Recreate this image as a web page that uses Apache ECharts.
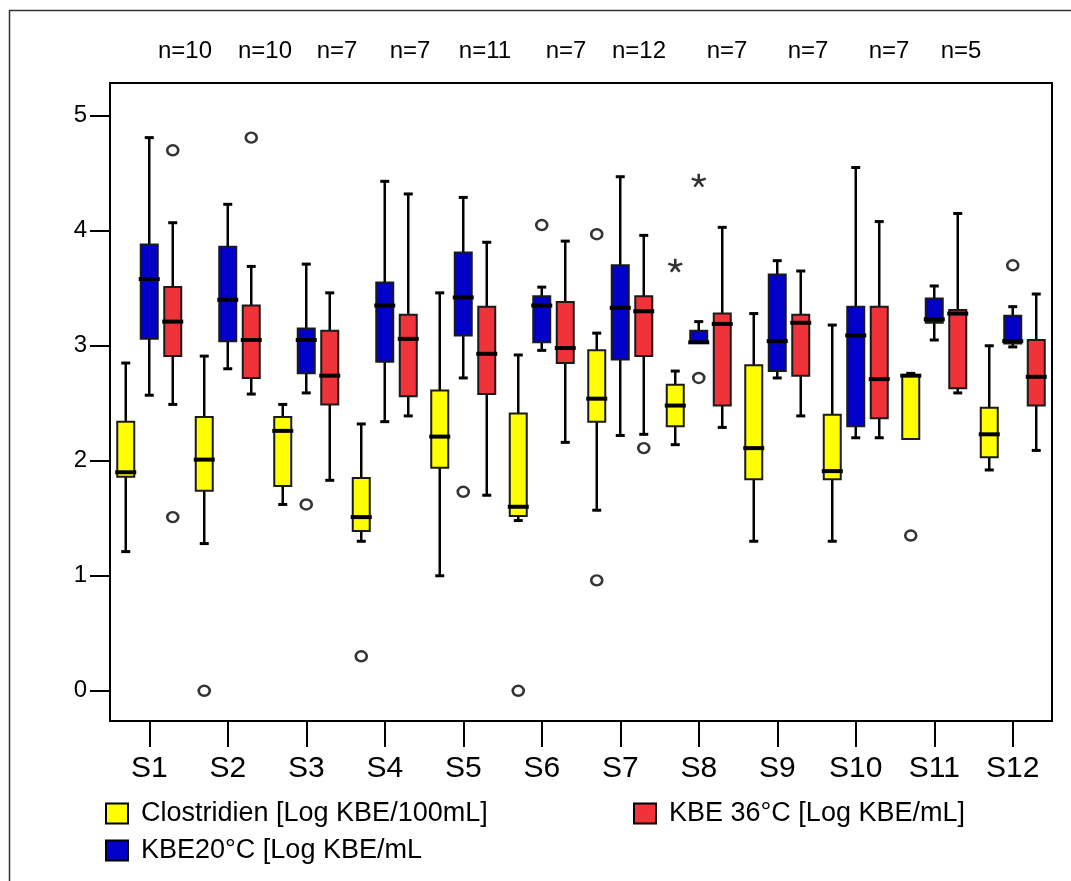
<!DOCTYPE html>
<html>
<head>
<meta charset="utf-8">
<script src="https://cdn.jsdelivr.net/npm/echarts@6/dist/echarts.min.js"></script>
<style>
  html, body { margin: 0; padding: 0; background: #fff; }
  #chart { width: 1071px; height: 881px; }
</style>
</head>
<body>
<div id="chart"></div>
<script>
// Sampling sites
const categories = ['S1', 'S2', 'S3', 'S4', 'S5', 'S6', 'S7', 'S8', 'S9', 'S10', 'S11', 'S12'];

// Box statistics per site: [lower whisker, Q1, median, Q3, upper whisker]
const clostridien = [
  [1.21, 1.86, 1.90, 2.34, 2.85],
  [1.28, 1.74, 2.01, 2.38, 2.91],
  [1.62, 1.78, 2.26, 2.38, 2.49],
  [1.30, 1.39, 1.51, 1.85, 2.32],
  [1.00, 1.94, 2.21, 2.61, 3.46],
  [1.48, 1.52, 1.60, 2.41, 2.92],
  [1.57, 2.34, 2.54, 2.96, 3.11],
  [2.14, 2.30, 2.48, 2.66, 2.78],
  [1.30, 1.84, 2.11, 2.83, 3.28],
  [1.30, 1.84, 1.91, 2.40, 3.18],
  [2.19, 2.19, 2.74, 2.74, 2.76],
  [1.92, 2.03, 2.23, 2.46, 3.00]
];
const kbe20 = [
  [2.57, 3.06, 3.58, 3.88, 4.81],
  [2.80, 3.04, 3.40, 3.86, 4.23],
  [2.59, 2.76, 3.05, 3.15, 3.71],
  [2.34, 2.86, 3.35, 3.55, 4.43],
  [2.72, 3.09, 3.42, 3.81, 4.29],
  [2.96, 3.03, 3.35, 3.43, 3.51],
  [2.22, 2.88, 3.33, 3.70, 4.47],
  [3.03, 3.03, 3.03, 3.13, 3.21],
  [2.72, 2.78, 3.04, 3.62, 3.74],
  [2.20, 2.30, 3.09, 3.34, 4.55],
  [3.05, 3.20, 3.23, 3.41, 3.52],
  [2.99, 3.02, 3.04, 3.26, 3.34]
];
const kbe36 = [
  [2.49, 2.91, 3.21, 3.51, 4.07],
  [2.58, 2.72, 3.05, 3.35, 3.69],
  [1.83, 2.49, 2.74, 3.13, 3.46],
  [2.39, 2.56, 3.06, 3.27, 4.32],
  [1.70, 2.58, 2.93, 3.34, 3.90],
  [2.16, 2.85, 2.98, 3.38, 3.91],
  [2.23, 2.91, 3.30, 3.43, 3.96],
  [2.29, 2.48, 3.19, 3.28, 4.03],
  [2.39, 2.74, 3.20, 3.27, 3.65],
  [2.20, 2.37, 2.71, 3.34, 4.08],
  [2.59, 2.63, 3.28, 3.31, 4.15],
  [2.09, 2.48, 2.73, 3.05, 3.45]
];

// Outliers (circles) and extreme values (stars): [site, value]
const clostridienOutliers = [['S2', 0.00], ['S4', 0.30], ['S6', 0.00], ['S7', 3.97], ['S7', 0.96], ['S11', 1.35]];
const clostridienExtremes = [['S8', 3.70]];
const kbe20Outliers = [['S3', 1.62], ['S5', 1.73], ['S6', 4.05], ['S8', 2.72], ['S12', 3.70]];
const kbe20Extremes = [['S8', 4.44]];
const kbe36Outliers = [['S1', 4.70], ['S1', 1.51], ['S2', 4.81], ['S7', 2.11]];

// Sample counts shown above the plot
const sampleCounts = ['n=10', 'n=10', 'n=7', 'n=7', 'n=11', 'n=7', 'n=12', 'n=7', 'n=7', 'n=7', 'n=5'];

// Axis tick values
const yTicks = [0, 1, 2, 3, 4, 5];

// ---- layout & style ----
const FONT = "'Liberation Sans', Arial, Helvetica, sans-serif";
const countLabelX = [185, 265, 337, 410, 485, 566, 639, 727, 808, 889, 961];
const BOX_W = 17;
const OFFSETS = [-23.5, 0, 23.5];
const COLORS = ['#ffff00', '#0000c8', '#ef3339'];
const NAMES = ['Clostridien [Log KBE/100mL]', 'KBE20°C [Log KBE/mL', 'KBE 36°C [Log KBE/mL]'];

function boxRenderer(offset) {
  return function (params, api) {
    const cat = api.value(0);
    const pLo = api.coord([cat, api.value(1)]);
    const yQ1 = api.coord([cat, api.value(2)])[1];
    const yMed = api.coord([cat, api.value(3)])[1];
    const yQ3 = api.coord([cat, api.value(4)])[1];
    const yHi = api.coord([cat, api.value(5)])[1];
    const yLo = pLo[1];
    const x = pLo[0] + offset;
    const h = BOX_W / 2;
    const cap = 4.5;
    const ink = { stroke: '#000', lineWidth: 2.5 };
    const children = [];
    if (yHi < yQ3 - 0.5) {
      children.push({ type: 'line', shape: { x1: x, y1: yQ3, x2: x, y2: yHi }, style: ink });
      children.push({ type: 'line', shape: { x1: x - cap, y1: yHi, x2: x + cap, y2: yHi }, style: { stroke: '#000', lineWidth: 3 } });
    }
    if (yLo > yQ1 + 0.5) {
      children.push({ type: 'line', shape: { x1: x, y1: yQ1, x2: x, y2: yLo }, style: ink });
      children.push({ type: 'line', shape: { x1: x - cap, y1: yLo, x2: x + cap, y2: yLo }, style: { stroke: '#000', lineWidth: 3 } });
    }
    children.push({
      type: 'rect',
      shape: { x: x - h, y: yQ3, width: BOX_W, height: yQ1 - yQ3 },
      style: { fill: api.visual('color'), stroke: '#1a1a1a', lineWidth: 2 }
    });
    children.push({
      type: 'line',
      shape: { x1: x - h - 2, y1: yMed, x2: x + h + 2, y2: yMed },
      style: { stroke: '#000', lineWidth: 4 }
    });
    return { type: 'group', children: children };
  };
}

const boxGroups = [clostridien, kbe20, kbe36];
const outlierGroups = [clostridienOutliers, kbe20Outliers, kbe36Outliers];
const extremeGroups = [clostridienExtremes, kbe20Extremes, []];

const series = [];
boxGroups.forEach(function (group, g) {
  series.push({
    name: NAMES[g],
    type: 'custom',
    renderItem: boxRenderer(OFFSETS[g]),
    itemStyle: { color: COLORS[g], borderColor: '#000', borderWidth: 2 },
    encode: { x: 0, y: [1, 2, 3, 4, 5] },
    data: categories.map(function (c, i) { return [c].concat(group[i]); }),
    z: 2
  });
});
outlierGroups.forEach(function (pts, g) {
  series.push({
    name: NAMES[g] + ' outliers',
    type: 'scatter',
    symbol: 'circle',
    symbolSize: [11, 10],
    symbolOffset: [OFFSETS[g], 0],
    itemStyle: { color: 'rgba(255,255,255,0)', borderColor: '#000', borderWidth: 2.5 },
    data: pts,
    z: 3
  });
});
const ASTERISK = 'path://M0 -1L0 0M0 0L0.951 -0.309M0 0L0.588 0.809M0 0L-0.588 0.809M0 0L-0.951 -0.309';
extremeGroups.forEach(function (pts, g) {
  if (!pts.length) return;
  series.push({
    name: NAMES[g] + ' extremes',
    type: 'scatter',
    symbol: ASTERISK,
    symbolSize: [14, 13],
    symbolOffset: [OFFSETS[g], 0],
    itemStyle: { color: 'rgba(0,0,0,0)', borderColor: '#000', borderWidth: 2.5 },
    data: pts,
    z: 3
  });
});

const legendCommon = {
  orient: 'horizontal',
  padding: 0,
  itemWidth: 22,
  itemHeight: 20,
  icon: 'rect',
  selectedMode: false,
  itemStyle: { borderColor: '#000', borderWidth: 2 },
  textStyle: { fontSize: 27, color: '#000', fontFamily: FONT, padding: [0, 0, 0, 8] }
};

const graphic = [
  {
    type: 'rect',
    shape: { x: 9.5, y: 10.5, width: 1200, height: 1000 },
    style: { fill: 'none', stroke: '#333', lineWidth: 1.5 },
    silent: true,
    z: -1
  }
].concat(sampleCounts.map(function (t, i) {
  return {
    type: 'text',
    x: countLabelX[i],
    y: 51,
    style: { text: t, fontSize: 24, fontFamily: FONT, fill: '#000', align: 'center', verticalAlign: 'middle' },
    silent: true
  };
}));

const chart = echarts.init(document.getElementById('chart'), null, { renderer: 'canvas' });
chart.setOption({
  animation: false,
  backgroundColor: '#fff',
  grid: { left: 110, right: 19, top: 83, bottom: 160, show: true, borderColor: '#000', borderWidth: 2, backgroundColor: 'transparent' },
  xAxis: {
    type: 'category',
    data: categories,
    boundaryGap: true,
    axisLine: { show: true, onZero: false, lineStyle: { color: '#000', width: 2 } },
    axisTick: { show: true, alignWithLabel: true, length: 26, lineStyle: { color: '#000', width: 2 } },
    axisLabel: { fontSize: 30, color: '#000', fontFamily: FONT, margin: 33 },
    splitLine: { show: false }
  },
  yAxis: {
    type: 'value',
    min: -0.263,
    max: 5.285,
    axisLine: { show: true, lineStyle: { color: '#000', width: 2 } },
    axisTick: { show: true, length: 20, customValues: yTicks, lineStyle: { color: '#000', width: 2 } },
    axisLabel: { fontSize: 24, color: '#000', fontFamily: FONT, margin: 23, customValues: yTicks },
    splitLine: { show: false }
  },
  legend: [
    Object.assign({}, legendCommon, { data: [NAMES[0]], left: 105, top: 800 }),
    Object.assign({}, legendCommon, { data: [NAMES[2]], left: 633, top: 800 }),
    Object.assign({}, legendCommon, { data: [NAMES[1]], left: 105, top: 837 })
  ],
  graphic: graphic,
  series: series
});
</script>
</body>
</html>
